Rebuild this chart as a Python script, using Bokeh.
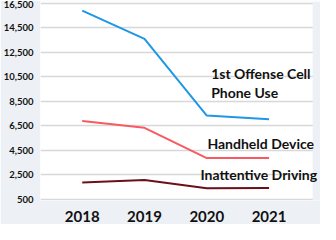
from bokeh.plotting import figure
from bokeh.models import Label, FixedTicker, Range1d, NumeralTickFormatter, BoxAnnotation
from bokeh.embed import file_html
from bokeh.resources import INLINE

years = [2018, 2019, 2020, 2021]
cell_phone = [15900, 13600, 7350, 7050]
handheld = [6900, 6350, 3880, 3880]
inattentive = [1880, 2100, 1420, 1430]
y_ticks = [500, 2500, 4500, 6500, 8500, 10500, 12500, 14500, 16500]
series_labels = ["1st Offense Cell", "Phone Use", "Handheld Device", "Inattentive Driving"]

BG = "#edf1f5"
FONT = "Lato"

p = figure(width=320, height=224, output_backend="svg", toolbar_location=None,
           x_range=Range1d(2017.33, 2021.826), y_range=Range1d(420, 16650),
           min_border_left=0, min_border_right=0, min_border_top=1, min_border_bottom=0)
p.background_fill_color = "white"
p.border_fill_color = BG
p.outline_line_color = None

p.line(years, cell_phone, line_color="#1f97e6", line_width=2)
p.line(years, handheld, line_color="#f85a62", line_width=2)
p.line(years, inattentive, line_color="#6b1019", line_width=2)

p.xgrid.grid_line_color = None
p.ygrid.grid_line_color = "#d8d8d8"
p.ygrid.grid_line_width = 1.5

p.yaxis.ticker = FixedTicker(ticks=y_ticks)
p.yaxis.formatter = NumeralTickFormatter(format="0,0")
p.xaxis.ticker = FixedTicker(ticks=years)
for ax in (p.xaxis, p.yaxis):
    ax.axis_line_color = None
    ax.major_tick_line_color = None
    ax.minor_tick_line_color = None
    ax.major_label_text_font = FONT
    ax.major_label_text_font_style = "bold"
    ax.major_label_text_color = "#111111"
p.yaxis.major_label_text_font_size = "9.5px"
p.yaxis.major_label_standoff = 1
p.xaxis.major_label_text_font_size = "15px"
p.xaxis.major_label_standoff = 4

# gray strip at the right of the white plot area
p.add_layout(BoxAnnotation(left=2021.70, fill_color=BG, fill_alpha=1, line_color=None))

label_pos = [(2020.07, 10800), (2020.07, 9250), (2020.01, 5050), (2019.90, 2520)]
for txt, (lx, ly) in zip(series_labels, label_pos):
    p.add_layout(Label(x=lx, y=ly, text=txt, text_font=FONT, text_font_style="bold",
                       text_font_size="14px", text_color="#111111", text_baseline="middle"))

html = file_html(p, INLINE)
html = html.replace("<body>", '<body style="background:%s">' % BG, 1)
open("out.html", "w").write(html)
